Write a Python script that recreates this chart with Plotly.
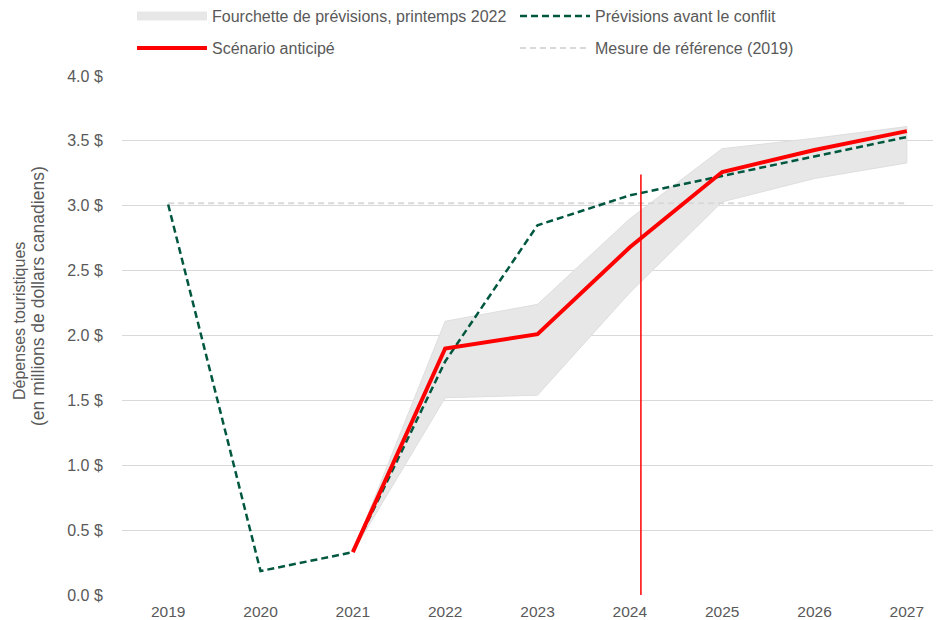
import plotly.graph_objects as go

years = [2019, 2020, 2021, 2022, 2023, 2024, 2025, 2026, 2027]
pre_conflict = [3.01, 0.185, 0.33, 1.80, 2.85, 3.08, 3.23, 3.38, 3.53]
scenario_years = [2021, 2022, 2023, 2024, 2025, 2026, 2027]
scenario = [0.33, 1.90, 2.01, 2.68, 3.26, 3.43, 3.575]
band_upper = [0.33, 2.11, 2.24, 2.90, 3.44, 3.52, 3.61]
band_lower = [0.33, 1.52, 1.54, 2.33, 3.03, 3.21, 3.33]
baseline_value = 3.02
marker_year = 2024.12
marker_top = 3.24
y_ticks = [0, 0.5, 1.0, 1.5, 2.0, 2.5, 3.0, 3.5, 4.0]

FONT = "Liberation Sans, Arial, sans-serif"
GREY_TXT = "#595959"
BAND = "#e7e7e7"
GREEN = "#00573f"
RED = "#ff0000"
REF = "#d9d9d9"

# page body adds an 8px offset; the figure is sized to compensate
OFF = 8
W, H = 941 - OFF, 620 - OFF
L, T, B, R = 122 - OFF, 76 - OFF, 25, 0
PW, PH = W - L - R, H - T - B

fig = go.Figure()

fig.add_trace(go.Scatter(
    x=scenario_years + scenario_years[::-1],
    y=band_upper + band_lower[::-1],
    fill="toself", fillcolor=BAND, mode="lines",
    line=dict(color="#dedede", width=1), showlegend=False, hoverinfo="skip"))

fig.add_trace(go.Scatter(x=years, y=[baseline_value] * len(years), mode="lines",
                         line=dict(color=REF, width=2, dash="6px,4px"),
                         showlegend=False, hoverinfo="skip"))

fig.add_trace(go.Scatter(x=years, y=pre_conflict, mode="lines",
                         line=dict(color=GREEN, width=2.5, dash="7px,4px"),
                         name="Prévisions avant le conflit", legend="legend",
                         legendrank=2))

fig.add_trace(go.Scatter(x=scenario_years, y=scenario, mode="lines",
                         line=dict(color=RED, width=4),
                         name="Scénario anticipé", legend="legend2", legendrank=1))

fig.add_trace(go.Scatter(x=[None], y=[None], mode="lines",
                         line=dict(color=BAND, width=9),
                         name="Fourchette de prévisions, printemps 2022", legend="legend",
                         legendrank=1))
fig.add_trace(go.Scatter(x=[None], y=[None], mode="lines",
                         line=dict(color=REF, width=2, dash="6px,4px"),
                         name="Mesure de référence (2019)", legend="legend2",
                         legendrank=2))

fig.add_shape(type="line", x0=marker_year, x1=marker_year, y0=0, y1=marker_top,
              xref="x", yref="y", line=dict(color=RED, width=1.5))

legend_common = dict(orientation="h", xref="container", yref="container",
                     x=(132 - OFF) / W, xanchor="left", yanchor="middle",
                     entrywidth=298, entrywidthmode="pixels", itemwidth=70,
                     font=dict(size=16, color=GREY_TXT), bgcolor="rgba(0,0,0,0)")


def px_to_paper_x(p):
    return (p - OFF - L) / PW


def px_to_paper_y(p):
    return 1 - (p - OFF - T) / PH


fig.add_annotation(text="Dépenses touristiques",
                   xref="paper", yref="paper", x=px_to_paper_x(19), y=px_to_paper_y(321),
                   xanchor="center", yanchor="middle", textangle=-90, showarrow=False,
                   font=dict(size=16, color=GREY_TXT, family=FONT))
fig.add_annotation(text="(en millions de dollars canadiens)",
                   xref="paper", yref="paper", x=px_to_paper_x(38), y=px_to_paper_y(296),
                   xanchor="center", yanchor="middle", textangle=-90, showarrow=False,
                   font=dict(size=17.5, color=GREY_TXT, family=FONT))

fig.update_layout(
    width=W, height=H,
    margin=dict(l=L, r=R, t=T, b=B),
    paper_bgcolor="white", plot_bgcolor="white",
    font=dict(family=FONT, size=16, color=GREY_TXT),
    showlegend=True,
    legend=dict(legend_common, y=1 - (16 - OFF) / H),
    legend2=dict(legend_common, y=1 - (48 - OFF) / H),
    xaxis=dict(range=[2018.5, 2027.37], tickmode="array", tickvals=years,
               ticktext=[str(y) for y in years], showgrid=False, zeroline=False,
               showline=False, automargin=False,
               ticks="outside", ticklen=2, tickcolor="rgba(0,0,0,0)",
               tickfont=dict(size=15.5, color=GREY_TXT)),
    yaxis=dict(range=[0, 4.0], tickmode="array", tickvals=y_ticks,
               ticktext=[f"{v:.1f} $" for v in y_ticks], showgrid=True,
               gridcolor=REF, gridwidth=1, zeroline=False, automargin=False,
               ticks="outside", ticklen=15, tickcolor="rgba(0,0,0,0)",
               tickfont=dict(size=16, color=GREY_TXT)),
)

fig.write_html("out.html")
